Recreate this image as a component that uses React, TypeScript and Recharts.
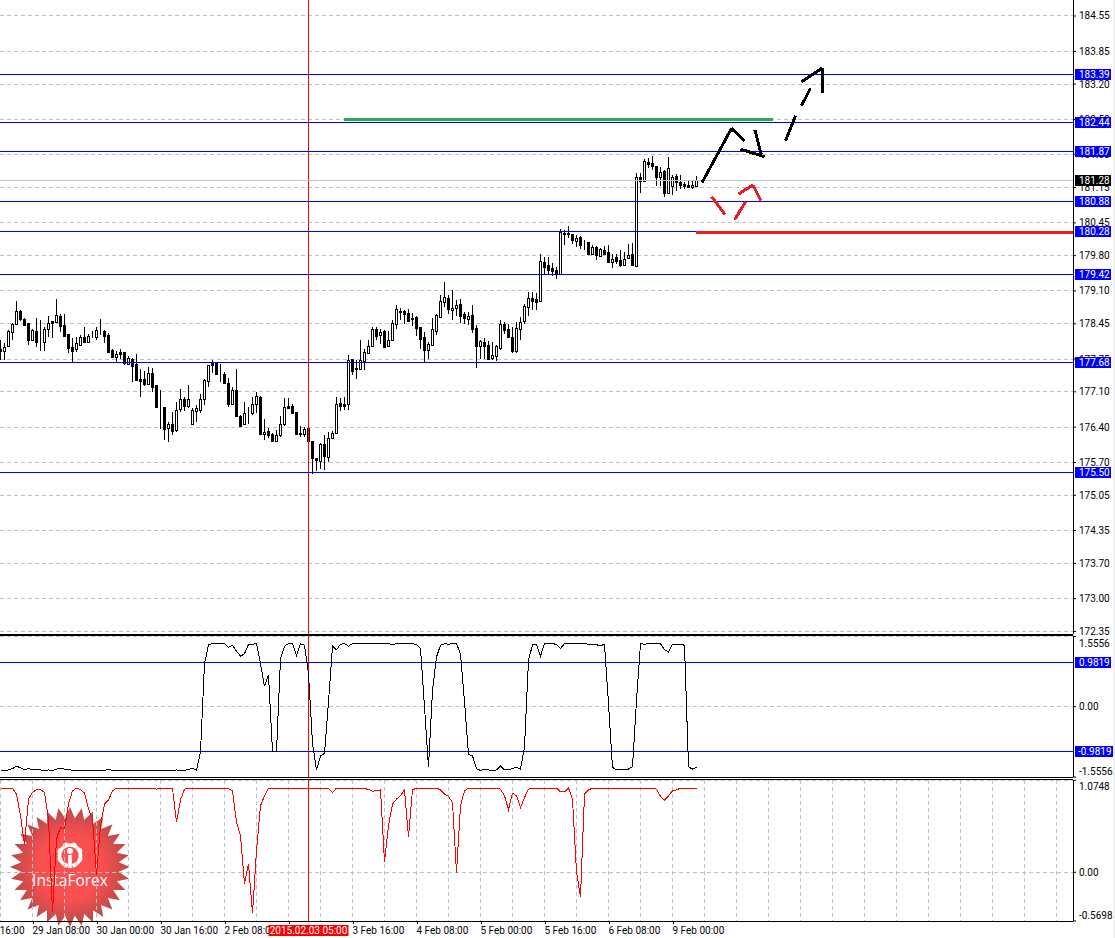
import * as React from "react";
import {
  Bar,
  CartesianGrid,
  ComposedChart,
  Line,
  ReferenceLine,
  XAxis,
  YAxis
} from "recharts";

// hourly candles, one value per bar
const openPrices = [
  177.93,177.89,177.99,178.27,178.42,178.68,178.52,178.44,178.10,178.28,
  178.06,178.06,178.33,178.48,178.46,178.58,178.40,178.22,177.96,177.92,
  178.01,178.16,178.07,178.18,178.17,178.30,178.28,178.20,177.91,177.77,
  177.87,177.87,177.64,177.74,177.63,177.33,177.33,177.23,177.45,177.21,
  176.79,176.78,176.37,176.45,176.32,176.74,176.93,176.80,176.44,176.71,
  176.72,176.93,177.30,177.65,177.66,177.42,177.43,177.25,176.84,177.11,
  176.61,176.45,176.67,176.66,176.83,176.97,176.25,176.30,176.24,176.10,
  176.23,176.45,176.80,176.80,176.68,176.27,176.25,176.36,176.10,175.76,
  175.70,176.04,175.79,176.17,176.27,176.85,176.83,176.83,177.73,177.55,
  177.54,177.69,177.85,177.99,178.32,178.20,178.28,177.98,178.10,178.43,
  178.69,178.68,178.64,178.54,178.56,178.36,178.16,177.91,178.01,178.29,
  178.57,178.86,178.95,178.70,178.75,178.83,178.62,178.53,178.60,178.35,
  177.98,178.06,178.00,177.75,177.79,177.95,178.42,178.32,178.17,177.89,
  178.33,178.48,178.76,178.95,178.92,178.88,179.65,179.59,179.53,179.49,
  179.41,180.22,180.22,180.21,180.08,180.15,180.05,180.05,179.82,179.95,
  179.78,179.90,179.85,179.66,179.75,179.70,179.59,179.74,179.81,179.57,
  181.33,181.25,181.63,181.62,181.56,181.33,181.46,181.03,181.16,181.36,
  181.23,181.20,181.19,181.15,181.16
];
const highPrices = [
  178.10,178.04,178.30,178.44,178.88,178.70,178.55,178.44,178.32,178.54,
  178.50,178.37,178.58,178.49,178.92,178.63,178.63,178.22,178.14,178.16,
  178.20,178.36,178.22,178.29,178.37,178.52,178.30,178.24,177.92,177.89,
  177.92,177.87,177.80,177.76,177.84,177.54,177.50,177.58,177.56,177.21,
  177.11,176.78,176.49,176.68,176.88,177.13,176.98,177.21,176.75,176.82,
  177.03,177.34,177.62,177.71,177.68,177.64,177.48,177.35,177.18,177.53,
  176.62,176.88,176.78,176.97,177.07,176.99,176.55,176.37,176.27,176.32,
  176.60,176.95,176.95,176.84,176.68,176.41,176.39,176.36,176.10,175.77,
  176.07,176.22,176.29,176.31,176.98,176.95,176.97,177.81,177.74,177.72,
  178.10,177.92,178.10,178.36,178.36,178.32,178.30,178.29,178.50,178.80,
  178.75,178.71,178.73,178.65,178.58,178.37,178.27,178.07,178.55,178.62,
  179.00,179.26,179.00,179.10,178.91,178.93,178.67,178.67,178.81,178.40,
  178.10,178.14,178.09,178.07,178.00,178.51,178.47,178.43,178.37,178.47,
  178.57,178.82,179.05,179.06,179.03,179.81,179.76,179.76,179.63,179.56,
  180.31,180.29,180.37,180.21,180.19,180.17,180.09,180.06,179.99,179.97,
  179.94,179.97,179.99,179.81,179.82,179.89,179.86,180.02,180.04,181.42,
  181.42,181.70,181.72,181.76,181.56,181.54,181.48,181.74,181.38,181.40,
  181.38,181.23,181.26,181.27,181.35
];
const lowPrices = [
  177.71,177.71,177.97,178.10,178.40,178.49,178.41,178.01,178.09,177.97,
  177.89,177.89,178.17,178.15,178.46,178.27,178.19,177.85,177.68,177.87,
  178.01,178.04,178.06,178.14,178.10,178.20,178.04,177.85,177.76,177.67,
  177.74,177.62,177.61,177.28,177.31,176.98,177.19,177.21,177.08,176.76,
  176.35,176.12,176.09,176.22,176.29,176.68,176.70,176.75,176.42,176.49,
  176.66,176.82,177.18,177.46,177.41,177.28,177.25,176.77,176.82,176.60,
  176.40,176.43,176.45,176.62,176.66,176.25,176.12,176.17,176.09,176.09,
  176.19,176.41,176.75,176.64,176.24,176.19,176.19,176.09,175.46,175.51,
  175.55,175.54,175.69,176.15,176.25,176.70,176.72,176.72,177.41,177.34,
  177.52,177.52,177.84,177.97,178.10,178.02,177.96,177.97,178.09,178.32,
  178.50,178.43,178.48,178.38,178.18,177.92,177.66,177.74,178.00,178.20,
  178.55,178.77,178.63,178.50,178.58,178.44,178.42,178.40,178.24,177.56,
  177.74,177.74,177.73,177.71,177.69,177.91,178.22,178.15,177.85,177.85,
  178.10,178.43,178.58,178.70,178.70,178.87,179.39,179.39,179.38,179.31,
  179.41,179.99,180.12,180.02,179.96,179.92,179.89,179.81,179.79,179.69,
  179.76,179.80,179.63,179.54,179.61,179.56,179.58,179.72,179.58,179.56,
  181.02,181.24,181.52,181.48,181.16,181.16,180.95,181.02,180.98,181.07,
  181.10,181.10,181.12,181.10,181.15
];
const closePrices = [
  177.89,177.97,178.28,178.42,178.69,178.53,178.41,178.10,178.30,178.07,
  178.06,178.32,178.44,178.45,178.60,178.39,178.19,177.95,177.89,178.04,
  178.16,178.07,178.19,178.18,178.30,178.30,178.19,177.87,177.78,177.84,
  177.84,177.66,177.76,177.59,177.31,177.30,177.23,177.46,177.18,176.78,
  176.79,176.35,176.44,176.31,176.73,176.93,176.80,176.93,176.73,176.76,
  176.93,177.31,177.61,177.62,177.43,177.42,177.26,176.83,177.11,176.60,
  176.41,176.67,176.66,176.83,176.99,176.25,176.29,176.23,176.10,176.23,
  176.45,176.78,176.76,176.66,176.25,176.25,176.34,176.10,175.76,175.72,
  176.05,175.80,176.17,176.27,176.84,176.80,176.80,177.71,177.50,177.54,
  177.72,177.87,177.99,178.33,178.18,178.26,177.97,178.10,178.44,178.72,
  178.67,178.63,178.49,178.53,178.35,178.13,177.91,178.03,178.32,178.60,
  178.88,178.97,178.73,178.75,178.81,178.58,178.54,178.59,178.33,177.99,
  178.08,177.99,177.73,177.82,177.98,178.42,178.30,178.16,177.89,178.34,
  178.47,178.78,178.95,178.88,178.87,179.67,179.56,179.49,179.47,179.41,
  180.25,180.20,180.20,180.09,180.13,179.99,180.05,179.82,179.95,179.79,
  179.92,179.82,179.65,179.72,179.68,179.60,179.72,179.80,179.59,181.34,
  181.25,181.66,181.60,181.56,181.34,181.44,181.02,181.52,181.34,181.23,
  181.18,181.17,181.15,181.19,181.28
];

const oscillator = [
  -1.41,-1.41,-1.40,-1.37,-1.32,-1.35,-1.39,-1.37,-1.40,-1.39,
  -1.40,-1.41,-1.40,-1.41,-1.38,-1.36,-1.38,-1.39,-1.41,-1.41,
  -1.41,-1.41,-1.41,-1.41,-1.41,-1.41,-1.41,-1.39,-1.41,-1.41,
  -1.41,-1.41,-1.41,-1.41,-1.41,-1.41,-1.41,-1.41,-1.41,-1.41,
  -1.41,-1.41,-1.41,-1.41,-1.40,-1.41,-1.41,-1.39,-1.36,-1.40,
  -1.00,0.95,1.37,1.395,1.395,1.395,1.395,1.31,1.36,1.23,
  1.12,1.17,1.38,1.38,1.395,0.95,0.45,0.71,-0.99,-0.99,
  1.06,1.34,1.395,1.395,1.14,1.395,1.36,0.73,-0.81,-1.40,
  -1.09,-1.03,0.11,1.34,1.26,1.38,1.395,1.34,1.395,1.395,
  1.395,1.395,1.395,1.395,1.395,1.395,1.395,1.395,1.37,1.395,
  1.395,1.395,1.395,1.395,1.37,1.29,0.0,-1.34,0.36,1.10,
  1.36,1.395,1.38,1.395,1.395,1.17,0.11,-1.05,-1.09,-1.37,
  -1.41,-1.39,-1.40,-1.41,-1.40,-1.31,-1.40,-1.39,-1.37,-1.34,
  -1.38,-0.89,1.03,1.37,1.38,1.12,1.395,1.395,1.395,1.38,
  1.29,1.395,1.395,1.395,1.395,1.395,1.395,1.38,1.37,1.37,
  1.35,1.38,0.07,-1.34,-1.40,-1.39,-1.39,-1.38,-1.33,0.14,
  1.395,1.38,1.395,1.395,1.395,1.395,1.26,1.21,1.38,1.38,
  1.38,1.36,-1.33,-1.38,-1.34
];

const lowerIndicator = [
  0.984,0.984,0.984,0.984,0.914,0.662,0.321,0.856,0.933,0.968,
  0.968,0.933,0.623,-0.469,0.39,0.527,0.507,0.798,0.953,0.984,
  0.968,0.926,0.74,0.623,-0.035,0.546,0.798,0.848,0.953,0.984,
  0.984,0.984,0.984,0.984,0.984,0.984,0.984,0.984,0.984,0.972,
  0.984,0.984,0.984,0.984,0.585,0.848,0.972,0.984,0.984,0.984,
  0.984,0.984,0.984,0.984,0.984,0.984,0.984,0.98,0.953,0.585,
  0.43,-0.132,0.10,-0.481,0.255,0.778,0.895,0.984,0.984,0.984,
  0.984,0.984,0.984,0.984,0.984,0.984,0.984,0.984,0.984,0.984,
  0.984,0.984,0.984,0.933,0.984,0.984,0.984,0.984,0.984,0.984,
  0.984,0.98,0.968,0.949,0.953,0.964,0.12,0.546,0.798,0.856,
  0.895,0.964,0.41,0.964,0.984,0.984,0.984,0.984,0.984,0.984,
  0.964,0.914,0.887,0.817,-0.004,0.778,0.953,0.984,0.984,0.984,
  0.984,0.984,0.984,0.984,0.984,0.972,0.895,0.732,0.926,0.895,
  0.759,0.875,0.972,0.984,0.984,0.984,0.984,0.984,0.984,0.984,
  0.941,0.941,0.984,0.856,0.004,-0.287,0.914,0.964,0.984,0.984,
  0.984,0.984,0.984,0.984,0.984,0.984,0.984,0.984,0.984,0.984,
  0.984,0.984,0.984,0.984,0.972,0.887,0.844,0.895,0.953,0.964,
  0.984,0.984,0.984,0.984,0.984
];

const priceTicks = [
  184.55,183.85,183.2,182.5,181.8,181.15,180.45,179.8,179.1,178.45,
  177.75,177.1,176.4,175.7,175.05,174.35,173.7,173.0,172.35
];
const levels = [183.39, 182.44, 181.87, 180.88, 180.28, 179.42, 177.68, 175.5];
const lastPrice = 181.28;
const markedBar = 77;
const priceDomain = [172.3, 184.867];

const gridBars = [
  0,8,16,24,32,40,48,56,64,72,80,88,96,104,112,120,128,136,144,152,
  160,168,176,184,192,200,208,216,224,232,240,248,256,264
];
const labelledBars = [0,8,24,40,56,88,104,120,136,152,168];
const timeLabels = [
  "28 Jan 16:00","29 Jan 08:00","30 Jan 00:00","30 Jan 16:00","2 Feb 08:00",
  "3 Feb 16:00","4 Feb 08:00","5 Feb 00:00","5 Feb 16:00","6 Feb 08:00","9 Feb 00:00"
];
// this bar's label is covered by the red time flag, only its tick mark shows
const flaggedTickBar = 72;

// hand drawn strokes on the chart: [bar, price, bar, price]
const blackStrokes = [
  [175.4,181.25,182.75,182.32],
  [182.75,182.32,186.1,182.07],
  [185,181.91,191,181.76],
  [188.6,182.29,190.2,181.8],
  [196.25,182.08,198.75,182.57],
  [200.25,182.77,202.5,183.12],
  [200.2,183.24,205.4,183.52],
  [205.4,183.52,205.4,183.02]
];
const redStrokes = [
  [177.75,180.97,181.1,180.62],
  [183.5,180.51,186.3,180.87],
  [184.5,181.02,188.1,181.2],
  [188.1,181.2,190.1,180.89]
];
const greenLine = [85.75, 182.5, 193, 182.5];
const redLine = [173.75, 180.25, 268.1, 180.25];

const candles = openPrices.map((open, i) => ({
  i,
  open,
  high: highPrices[i],
  low: lowPrices[i],
  close: closePrices[i],
  range: [lowPrices[i], highPrices[i]]
}));
const oscillatorRows = oscillator.map((value, i) => ({ i, value }));
const lowerRows = lowerIndicator.map((value, i) => ({ i, value }));

const W = 1115;
const AXIS_W = 42;
const FONT = "Roboto, sans-serif";
const GRID = "#c0c0c0";
const xDomain = [-0.125, 268.125];

const Candle = (props: any) => {
  const { x, y, width, height, payload } = props;
  const cx = Math.floor(x + width / 2) + 0.5;
  const perUnit = height / (payload.high - payload.low);
  const yOf = (v: number) => y + (payload.high - v) * perUnit;
  const up = payload.close >= payload.open;
  const top = Math.round(yOf(Math.max(payload.open, payload.close))) + 0.5;
  const bottom = Math.round(yOf(Math.min(payload.open, payload.close))) + 0.5;
  return (
    <g shapeRendering="crispEdges" transform="translate(0,-1)">
      <line x1={cx} x2={cx} y1={y} y2={y + height} stroke="#000" />
      <rect
        x={cx - 1}
        y={top}
        width={2}
        height={Math.max(bottom - top, 0)}
        fill={up ? "#fff" : "#000"}
        stroke="#000"
      />
    </g>
  );
};

const priceLabel = (offsets: Record<number, number> = {}, digits?: number) => (props: any) => {
  const value = props.payload.value;
  const text = digits === undefined ? value.toFixed(2) : value === 0 ? "0.00" : value.toFixed(digits);
  return (
    <text
      x={1079}
      y={props.y + (offsets[value] || 0) + 3.5}
      fontFamily={FONT}
      fontSize={10}
      fill="#000"
    >
      {text}
    </text>
  );
};

const LevelTag = ({ viewBox, text, fill, wide }: any) => (
  <g>
    <rect
      x={1075}
      y={Math.floor(viewBox.y) - 5}
      width={wide ? 38 : 36}
      height={11}
      fill={fill}
    />
    <text
      x={wide ? 1078 : 1079}
      y={Math.floor(viewBox.y) + 4}
      fontFamily={FONT}
      fontSize={10}
      fill="#fff"
    >
      {text}
    </text>
  </g>
);

const timeLabel = (props: any) => {
  const bar = props.payload.value;
  const at = labelledBars.indexOf(bar);
  if (at < 0 && bar !== flaggedTickBar) return <g />;
  const x = Math.round(props.x) + 0.5;
  return (
    <g>
      {bar > 0 && (
        <line x1={x} x2={x} y1={142} y2={145} stroke="#000" shapeRendering="crispEdges" />
      )}
      {at >= 0 && (
        <text x={bar === 0 ? -33 : x - 1} y={155} fontFamily={FONT} fontSize={10} fill="#000">
          {timeLabels[at]}
        </text>
      )}
    </g>
  );
};

const MarkedTime = ({ viewBox }: any) => (
  <g>
    <rect x={viewBox.x - 40} y={146} width={80} height={11} fill="#ff0000" />
    <text
      x={viewBox.x}
      y={155}
      textAnchor="middle"
      fontFamily={FONT}
      fontSize={10}
      fill="#fff"
    >
      2015.02.03 05:00
    </text>
  </g>
);

// the broker's badge, bottom left
const Badge = () => {
  const cx = 70;
  const cy = 867;
  const spikes = 32;
  const points: string[] = [];
  for (let k = 0; k < spikes * 2; k++) {
    const r = k % 2 === 0 ? 60 : 49;
    const a = (Math.PI * k) / spikes;
    points.push(`${cx + r * Math.cos(a)},${cy + r * Math.sin(a)}`);
  }
  const teeth = [22, 67, 112, 157, 202, 247, 292, 337];
  return (
    <svg
      width={150}
      height={140}
      viewBox="0 800 150 140"
      style={{ position: "absolute", left: 0, top: 800 }}
    >
      <defs>
        <radialGradient id="badge">
          <stop offset="0%" stopColor="#ff4f4f" />
          <stop offset="55%" stopColor="#f84f4f" />
          <stop offset="100%" stopColor="#b84a4a" />
        </radialGradient>
      </defs>
      <polygon points={points.join(" ")} fill="url(#badge)" />
      <path
        d="M 64.5 864.5 A 10.5 10.5 0 1 1 75.5 864.5"
        fill="none"
        stroke="#fff"
        strokeWidth={3.5}
      />
      {teeth.map((t) => (
        <rect
          key={t}
          x={68}
          y={842}
          width={4}
          height={4}
          fill="#fff"
          transform={`rotate(${t} 70 855)`}
        />
      ))}
      <circle cx={70} cy={851} r={3} fill="#fff" />
      <rect x={68.2} y={855} width={3.6} height={13} fill="#fff" />
      <text
        x={70}
        y={886}
        textAnchor="middle"
        fontFamily="'Open Sans', sans-serif"
        fontSize={15.5}
        fill="#fff"
      >
        InstaForex
      </text>
    </svg>
  );
};

const panelStyle = (top: number): React.CSSProperties => ({
  position: "absolute",
  left: 0,
  top
});
const ruleStyle = (top: number): React.CSSProperties => ({
  position: "absolute",
  left: 0,
  top,
  width: 1073,
  height: 1,
  background: "#000"
});

const stroke = (s: number[], color: string, key: number) => (
  <ReferenceLine
    key={`${color}-${key}`}
    segment={[
      { x: s[0], y: s[1] },
      { x: s[2], y: s[3] }
    ]}
    stroke={color}
    strokeWidth={3}
    shapeRendering="crispEdges"
  />
);

export default function App() {
  const axisLine = { stroke: "#000", shapeRendering: "crispEdges" };
  const gridProps = {
    stroke: GRID,
    strokeDasharray: "4 3",
    shapeRendering: "crispEdges",
    syncWithTicks: true
  };
  return (
    <div
      style={{
        position: "absolute",
        left: 0,
        top: 0,
        width: W,
        height: 938,
        overflow: "hidden",
        background: "#fff"
      }}
    >
      <div style={panelStyle(0)}>
        <ComposedChart
          width={W}
          height={635}
          data={candles}
          margin={{ top: 0, right: 0, bottom: 0, left: 0 }}
        >
          <CartesianGrid {...gridProps} />
          <XAxis
            type="number"
            dataKey="i"
            domain={xDomain}
            ticks={gridBars}
            interval={0}
            height={1}
            tick={false}
            tickLine={false}
            axisLine={axisLine}
          />
          <YAxis
            orientation="right"
            width={AXIS_W}
            type="number"
            domain={priceDomain}
            ticks={priceTicks}
            interval={0}
            tickSize={3}
            tick={priceLabel()}
            axisLine={axisLine}
            tickLine={{ stroke: "#000" }}
          />
          <ReferenceLine x={markedBar} stroke="#ff0000" shapeRendering="crispEdges" />
          <ReferenceLine y={lastPrice} stroke={GRID} shapeRendering="crispEdges" />
          <Bar
            dataKey="range"
            barSize={3}
            shape={Candle}
            isAnimationActive={false}
          />
          {levels.map((level) => (
            <ReferenceLine
              key={level}
              y={level}
              stroke="#0000ff"
              shapeRendering="crispEdges"
            />
          ))}
          {stroke(greenLine, "#22b14c", 0)}
          {stroke(redLine, "#ed1c24", 1)}
          {blackStrokes.map((s, k) => stroke(s, "#000000", k))}
          {redStrokes.map((s, k) => stroke(s, "#ed1c24", k))}
        </ComposedChart>
      </div>

      {/* price tags sit on top of the axis numbers */}
      <div style={panelStyle(0)}>
        <ComposedChart
          width={W}
          height={635}
          data={candles}
          margin={{ top: 0, right: AXIS_W, bottom: 1, left: 0 }}
        >
          <XAxis type="number" dataKey="i" domain={xDomain} hide />
          <YAxis type="number" domain={priceDomain} hide />
          <Line dataKey="close" stroke="none" dot={false} activeDot={false} isAnimationActive={false} />
          {levels.map((level) => (
            <ReferenceLine
              key={level}
              y={level}
              stroke="none"
              ifOverflow="visible"
              label={(p: any) => <LevelTag {...p} text={level.toFixed(2)} fill="#0000ff" />}
            />
          ))}
          <ReferenceLine
            y={lastPrice}
            stroke="none"
            ifOverflow="visible"
            label={(p: any) => <LevelTag {...p} text={lastPrice.toFixed(2)} fill="#000" />}
          />
        </ComposedChart>
      </div>

      <div style={ruleStyle(635)} />
      <div style={panelStyle(635)}>
        <ComposedChart
          width={W}
          height={143}
          data={oscillatorRows}
          margin={{ top: 1.4, right: 0, bottom: 0, left: 0 }}
        >
          <CartesianGrid {...gridProps} />
          <XAxis
            type="number"
            dataKey="i"
            domain={xDomain}
            ticks={gridBars}
            interval={0}
            height={1}
            tick={false}
            tickLine={false}
            axisLine={axisLine}
          />
          <YAxis
            orientation="right"
            width={AXIS_W}
            type="number"
            domain={[-1.5556, 1.5556]}
            ticks={[1.5556, 0, -1.5556]}
            interval={0}
            tickSize={3}
            tick={priceLabel({ 1.5556: 7, [-1.5556]: -6 }, 4)}
            axisLine={axisLine}
            tickLine={{ stroke: "#000" }}
          />
          <ReferenceLine x={markedBar} stroke="#ff0000" shapeRendering="crispEdges" />
          <ReferenceLine
            y={0.9819}
            stroke="#0000ff"
            shapeRendering="crispEdges"
            label={(p: any) => <LevelTag {...p} text="0.9819" fill="#0000ff" />}
          />
          <ReferenceLine
            y={-0.9819}
            stroke="#0000ff"
            shapeRendering="crispEdges"
            label={(p: any) => <LevelTag {...p} text="-0.9819" fill="#0000ff" wide />}
          />
          <Line
            dataKey="value"
            stroke="#000"
            strokeWidth={1}
            dot={false}
            activeDot={false}
            shapeRendering="crispEdges"
            isAnimationActive={false}
          />
        </ComposedChart>
      </div>

      <Badge />
      <div style={ruleStyle(779)} />
      <div style={panelStyle(779)}>
        <ComposedChart
          width={W}
          height={159}
          data={lowerRows}
          margin={{ top: 1.4, right: 0, bottom: 0, left: 0 }}
        >
          <CartesianGrid {...gridProps} />
          <XAxis
            type="number"
            dataKey="i"
            domain={xDomain}
            ticks={gridBars}
            interval={0}
            height={17}
            tick={timeLabel}
            tickLine={false}
            axisLine={axisLine}
          />
          <YAxis
            orientation="right"
            width={AXIS_W}
            type="number"
            domain={[-0.5698, 1.0748]}
            ticks={[1.0748, 0, -0.5698]}
            interval={0}
            tickSize={3}
            tick={priceLabel({ 1.0748: 6, [-0.5698]: -6 }, 4)}
            axisLine={axisLine}
            tickLine={{ stroke: "#000" }}
          />
          <ReferenceLine x={markedBar} stroke="#ff0000" shapeRendering="crispEdges" />
          <Line
            dataKey="value"
            stroke="#ff0000"
            strokeWidth={1}
            dot={false}
            activeDot={false}
            shapeRendering="crispEdges"
            isAnimationActive={false}
          />
        </ComposedChart>
      </div>

      {/* red time flag covers the axis labels under it */}
      <div style={panelStyle(779)}>
        <ComposedChart
          width={W}
          height={159}
          data={lowerRows}
          margin={{ top: 1.4, right: AXIS_W, bottom: 17, left: 0 }}
        >
          <XAxis type="number" dataKey="i" domain={xDomain} hide />
          <YAxis type="number" domain={[-0.5698, 1.0748]} hide />
          <Line dataKey="value" stroke="none" dot={false} activeDot={false} isAnimationActive={false} />
          <ReferenceLine
            x={markedBar}
            stroke="none"
            ifOverflow="visible"
            label={(p: any) => <MarkedTime {...p} />}
          />
        </ComposedChart>
      </div>

      <div
        style={{
          position: "absolute",
          left: 1113,
          top: 0,
          width: 2,
          height: 938,
          background: "#f0f0f0"
        }}
      />
    </div>
  );
}
